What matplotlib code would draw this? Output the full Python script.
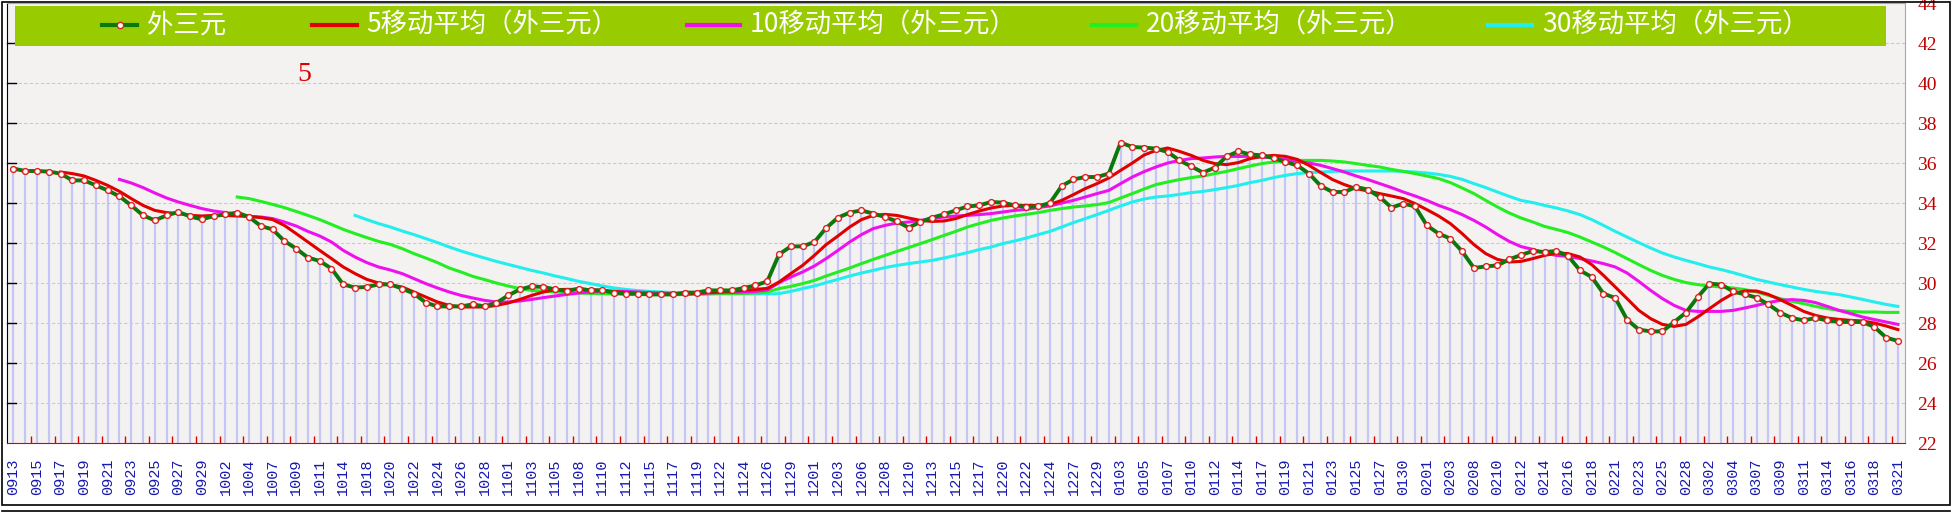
import numpy as np
import matplotlib
matplotlib.use("Agg")
import matplotlib.pyplot as plt
from matplotlib.patches import Rectangle
from matplotlib.lines import Line2D

plt.rcParams['font.family'] = ['Noto Sans CJK SC', 'DejaVu Sans']

W, H = 1954, 513

# x axis labels (one every 2 points)
date_labels = ['0913', '0915', '0917', '0919', '0921', '0923', '0925', '0927', '0929', '1002',
               '1004', '1007', '1009', '1011', '1014', '1018', '1020', '1022', '1024', '1026',
               '1028', '1101', '1103', '1105', '1108', '1110', '1112', '1115', '1117', '1119',
               '1122', '1124', '1126', '1129', '1201', '1203', '1206', '1208', '1210', '1213',
               '1215', '1217', '1220', '1222', '1224', '1227', '1229', '0103', '0105', '0107',
               '0110', '0112', '0114', '0117', '0119', '0121', '0123', '0125', '0127', '0130',
               '0201', '0203', '0208', '0210', '0212', '0214', '0216', '0218', '0221', '0223',
               '0225', '0228', '0302', '0304', '0307', '0309', '0311', '0314', '0316', '0318',
               '0321']

# 外三元
price = [35.72, 35.60, 35.60, 35.57, 35.47, 35.13, 35.13, 34.88, 34.63, 34.33,
         33.88, 33.38, 33.13, 33.38, 33.55, 33.33, 33.18, 33.35, 33.43, 33.52,
         33.30, 32.85, 32.68, 32.10, 31.72, 31.27, 31.10, 30.72, 29.93, 29.77,
         29.80, 29.93, 29.93, 29.72, 29.47, 29.02, 28.83, 28.83, 28.83, 28.93,
         28.83, 29.00, 29.38, 29.68, 29.83, 29.80, 29.68, 29.60, 29.72, 29.63,
         29.63, 29.52, 29.47, 29.47, 29.43, 29.43, 29.43, 29.52, 29.52, 29.63,
         29.63, 29.63, 29.75, 29.88, 30.08, 31.43, 31.83, 31.83, 32.05, 32.75,
         33.27, 33.52, 33.63, 33.47, 33.30, 33.08, 32.77, 33.05, 33.27, 33.43,
         33.63, 33.83, 33.88, 34.05, 34.02, 33.88, 33.80, 33.83, 34.00, 34.85,
         35.18, 35.30, 35.30, 35.47, 37.02, 36.80, 36.77, 36.72, 36.55, 36.13,
         35.83, 35.52, 35.77, 36.33, 36.58, 36.43, 36.38, 36.25, 36.05, 35.88,
         35.47, 34.85, 34.55, 34.55, 34.80, 34.67, 34.30, 33.77, 33.97, 33.83,
         32.88, 32.47, 32.22, 31.58, 30.75, 30.83, 30.88, 31.18, 31.40, 31.60,
         31.55, 31.60, 31.35, 30.63, 30.30, 29.47, 29.25, 28.17, 27.67, 27.58,
         27.58, 28.05, 28.52, 29.30, 29.97, 29.92, 29.58, 29.43, 29.27, 28.93,
         28.52, 28.25, 28.13, 28.25, 28.13, 28.05, 28.05, 28.05, 27.80, 27.27,
         27.10]

# 5移动平均 (starts at point 4)
ma5 = [35.55, 35.47, 35.35, 35.13, 34.88, 34.58, 34.22, 33.88, 33.63, 33.52,
       33.47, 33.38, 33.35, 33.38, 33.38, 33.35, 33.33, 33.27, 33.17, 32.88,
       32.47, 32.05, 31.63, 31.22, 30.80, 30.47, 30.18, 30.00, 29.90, 29.80,
       29.55, 29.30, 29.05, 28.88, 28.80, 28.80, 28.80, 28.88, 29.00, 29.18,
       29.38, 29.55, 29.67, 29.68, 29.68, 29.67, 29.63, 29.58, 29.52, 29.47,
       29.43, 29.43, 29.45, 29.45, 29.48, 29.52, 29.55, 29.60, 29.63, 29.68,
       29.73, 30.05, 30.47, 30.88, 31.38, 31.92, 32.35, 32.80, 33.17, 33.38,
       33.43, 33.38, 33.25, 33.13, 33.08, 33.10, 33.22, 33.42, 33.60, 33.75,
       33.85, 33.88, 33.88, 33.88, 33.93, 34.13, 34.42, 34.72, 34.97, 35.25,
       35.63, 36.00, 36.40, 36.63, 36.75, 36.58, 36.38, 36.13, 35.97, 35.92,
       36.02, 36.22, 36.33, 36.38, 36.33, 36.18, 35.88, 35.52, 35.17, 34.92,
       34.72, 34.60, 34.47, 34.35, 34.22, 33.97, 33.67, 33.35, 32.97, 32.47,
       31.92, 31.47, 31.18, 31.05, 31.08, 31.22, 31.38, 31.50, 31.47, 31.30,
       30.92, 30.38, 29.80, 29.22, 28.63, 28.22, 27.93, 27.83, 27.93, 28.30,
       28.72, 29.13, 29.47, 29.60, 29.60, 29.43, 29.17, 28.88, 28.58, 28.38,
       28.25, 28.18, 28.13, 28.10, 28.00, 27.85, 27.67]

# 10移动平均 (starts at point 9)
ma10 = [35.18, 35.00, 34.77, 34.50, 34.25, 34.05, 33.88, 33.72, 33.60, 33.52,
        33.42, 33.33, 33.30, 33.22, 33.05, 32.85, 32.58, 32.35, 32.05, 31.63,
        31.30, 31.02, 30.80, 30.65, 30.47, 30.22, 29.97, 29.75, 29.55, 29.38,
        29.25, 29.13, 29.05, 29.05, 29.10, 29.18, 29.27, 29.35, 29.43, 29.50,
        29.55, 29.58, 29.58, 29.58, 29.55, 29.52, 29.50, 29.48, 29.47, 29.47,
        29.50, 29.52, 29.53, 29.55, 29.58, 29.65, 30.02, 30.30, 30.55, 30.85,
        31.22, 31.63, 32.05, 32.42, 32.72, 32.88, 33.00, 33.05, 33.13, 33.22,
        33.30, 33.35, 33.38, 33.42, 33.47, 33.55, 33.63, 33.68, 33.77, 33.85,
        34.00, 34.13, 34.30, 34.47, 34.63, 34.97, 35.30, 35.57, 35.80, 36.00,
        36.13, 36.22, 36.25, 36.30, 36.33, 36.33, 36.33, 36.30, 36.25, 36.17,
        36.08, 36.00, 35.88, 35.72, 35.55, 35.35, 35.17, 34.97, 34.77, 34.55,
        34.35, 34.13, 33.88, 33.67, 33.42, 33.13, 32.80, 32.42, 32.08, 31.82,
        31.68, 31.50, 31.38, 31.33, 31.22, 31.10, 30.97, 30.80, 30.50, 30.08,
        29.63, 29.22, 28.88, 28.63, 28.58, 28.58, 28.58, 28.63, 28.75, 28.88,
        29.02, 29.13, 29.17, 29.13, 29.02, 28.83, 28.63, 28.47, 28.30, 28.17,
        28.05, 27.93]

# 20移动平均 (starts at point 19)
ma20 = [34.30, 34.22, 34.08, 33.93, 33.77, 33.58, 33.38, 33.17, 32.93, 32.68,
        32.47, 32.27, 32.08, 31.93, 31.72, 31.47, 31.25, 31.02, 30.75, 30.55,
        30.33, 30.17, 30.00, 29.85, 29.72, 29.63, 29.58, 29.55, 29.52, 29.50,
        29.48, 29.47, 29.45, 29.43, 29.42, 29.42, 29.42, 29.42, 29.42, 29.43,
        29.45, 29.47, 29.47, 29.48, 29.50, 29.55, 29.72, 29.83, 29.97, 30.13,
        30.35, 30.55, 30.75, 30.97, 31.18, 31.38, 31.58, 31.77, 31.97, 32.17,
        32.38, 32.58, 32.80, 32.97, 33.13, 33.25, 33.35, 33.43, 33.52, 33.63,
        33.72, 33.80, 33.85, 33.92, 34.02, 34.25, 34.47, 34.70, 34.92, 35.05,
        35.17, 35.27, 35.35, 35.47, 35.58, 35.72, 35.85, 35.97, 36.05, 36.10,
        36.13, 36.13, 36.13, 36.10, 36.05, 35.97, 35.88, 35.80, 35.68, 35.58,
        35.47, 35.35, 35.22, 35.02, 34.75, 34.47, 34.13, 33.80, 33.50, 33.25,
        33.05, 32.83, 32.68, 32.52, 32.30, 32.05, 31.80, 31.52, 31.22, 30.92,
        30.63, 30.38, 30.18, 30.02, 29.92, 29.85, 29.80, 29.75, 29.67, 29.55,
        29.38, 29.22, 29.08, 28.97, 28.83, 28.72, 28.63, 28.58, 28.55, 28.55,
        28.53, 28.53]

# 30移动平均 (starts at point 29)
ma30 = [33.38, 33.17, 32.97, 32.80, 32.60, 32.42, 32.22, 32.02, 31.80, 31.60,
        31.42, 31.25, 31.08, 30.93, 30.78, 30.63, 30.50, 30.35, 30.22, 30.08,
        29.97, 29.85, 29.75, 29.68, 29.62, 29.58, 29.55, 29.52, 29.50, 29.48,
        29.47, 29.47, 29.47, 29.47, 29.47, 29.45, 29.47, 29.58, 29.72, 29.85,
        30.02, 30.18, 30.35, 30.50, 30.63, 30.77, 30.88, 30.97, 31.05, 31.13,
        31.25, 31.38, 31.52, 31.67, 31.80, 31.97, 32.10, 32.25, 32.42, 32.58,
        32.80, 33.02, 33.22, 33.42, 33.63, 33.85, 34.05, 34.20, 34.30, 34.35,
        34.43, 34.52, 34.58, 34.67, 34.77, 34.88, 35.02, 35.13, 35.27, 35.38,
        35.47, 35.52, 35.55, 35.58, 35.60, 35.60, 35.60, 35.60, 35.60, 35.58,
        35.55, 35.50, 35.43, 35.33, 35.18, 34.97, 34.77, 34.55, 34.33, 34.13,
        34.02, 33.88, 33.75, 33.60, 33.42, 33.17, 32.88, 32.58, 32.30, 32.02,
        31.75, 31.50, 31.30, 31.13, 30.97, 30.80, 30.67, 30.52, 30.35, 30.18,
        30.05, 29.92, 29.80, 29.68, 29.58, 29.50, 29.42, 29.30, 29.18, 29.05,
        28.93, 28.83]

series_names = ['外三元', '5移动平均（外三元）', '10移动平均（外三元）',
                '20移动平均（外三元）', '30移动平均（外三元）']
series_colors = ['#0a780a', '#e00000', '#ee11ee', '#22ee22', '#22eeee']

x = np.arange(len(price))
x5 = np.arange(4, 4 + len(ma5))
x10 = np.arange(9, 9 + len(ma10))
x20 = np.arange(19, 19 + len(ma20))
x30 = np.arange(29, 29 + len(ma30))

fig = plt.figure(figsize=(W / 100, H / 100), dpi=100)
fig.patch.set_facecolor('white')

# plot area in pixels: left 7, right 1905, top 3, bottom 443
ax = fig.add_axes([7 / W, 1 - 443 / H, (1905 - 7) / W, (443 - 3) / H])
ax.set_facecolor('#f4f2f1')
ax.set_xlim(-0.55, 160.6)
ax.set_ylim(22, 44)

# horizontal dashed grid
for gy in range(24, 44, 2):
    ax.axhline(gy, color='#c4c4ee', lw=0.8, ls=(0, (3, 2)), zorder=0.5)

# vertical bars from bottom up to the price
ax.vlines(x, 22, price, color='#c6c6f6', lw=1.6, zorder=1)

ax.plot(x30, ma30, color=series_colors[4], lw=2.2, zorder=2)
ax.plot(x20, ma20, color=series_colors[3], lw=2.2, zorder=3)
ax.plot(x10, ma10, color=series_colors[2], lw=2.2, zorder=4)
ax.plot(x5, ma5, color=series_colors[1], lw=2.2, zorder=5)
ax.plot(x, price, color=series_colors[0], lw=2.8, zorder=6,
        marker='o', ms=4.2, mfc='white', mec='#e02020', mew=1.0)

# axes styling
ax.spines['left'].set_color('black')
ax.spines['bottom'].set_color('#dd0000')
ax.spines['right'].set_color('#a8a8a8')
ax.spines['top'].set_color('#a8a8a8')

ax.set_yticks(range(22, 45, 2))
ax.tick_params(axis='y', which='both', left=False, right=False, labelleft=False,
               labelright=True, length=0, pad=9,
               labelcolor='#c00000', labelsize=14)
for lab in ax.get_yticklabels():
    lab.set_family('Liberation Serif')
# small black inward ticks on the left side
for gy in range(24, 44, 2):
    ax.plot([-0.55, 0.2], [gy, gy], color='black', lw=1.0, zorder=7, clip_on=False)

ax.set_xticks(np.arange(0, len(price), 2))
ax.set_xticklabels(date_labels, rotation=90, family='Liberation Mono',
                   fontsize=11, color='#1818b0')
ax.set_xticks(np.arange(1.5, len(price), 2), minor=True)
ax.tick_params(axis='x', which='major', length=0, pad=11)
ax.tick_params(axis='x', which='minor', direction='in', length=5,
               color='#dd0000', width=1)

# legend bar, items placed at fixed pixel spots
fig.patches.append(Rectangle((15 / W, 1 - 46 / H), (1886 - 15) / W, 40 / H,
                             transform=fig.transFigure, facecolor='#99cc00',
                             edgecolor='none', zorder=3))
leg_line_x = [(102, 137), (312, 357), (687, 740), (1092, 1136), (1488, 1532)]
leg_text_x = [147, 366, 750, 1146, 1542]
leg_y = 1 - 25 / H
for i, name in enumerate(series_names):
    x0, x1 = leg_line_x[i]
    fig.lines.append(Line2D([x0 / W, x1 / W], [leg_y, leg_y], transform=fig.transFigure,
                            color=series_colors[i], lw=3.0, zorder=4))
    fig.text(leg_text_x[i] / W, leg_y, name, color='white', fontsize=19,
             ha='left', va='center', zorder=4)
fig.lines.append(Line2D([120 / W], [leg_y], transform=fig.transFigure, marker='o',
                        ms=4.5, mfc='white', mec='#e02020', mew=1.0, zorder=5))

fig.text(304 / W, 1 - 75 / H, '5', color='#dd0000', fontsize=20,
         family='Liberation Serif', ha='center', va='center')

# outer frame
fig.patches.append(Rectangle((2 / W, 1 - 505 / H), (1950 - 2) / W, (505 - 2) / H,
                             transform=fig.transFigure, fill=False,
                             edgecolor='black', lw=1.2, zorder=5))
fig.lines.append(Line2D([2 / W, 1950 / W], [1 - 511 / H, 1 - 511 / H],
                        transform=fig.transFigure, color='black', lw=1.2))

fig.savefig('out.png', dpi=100)
